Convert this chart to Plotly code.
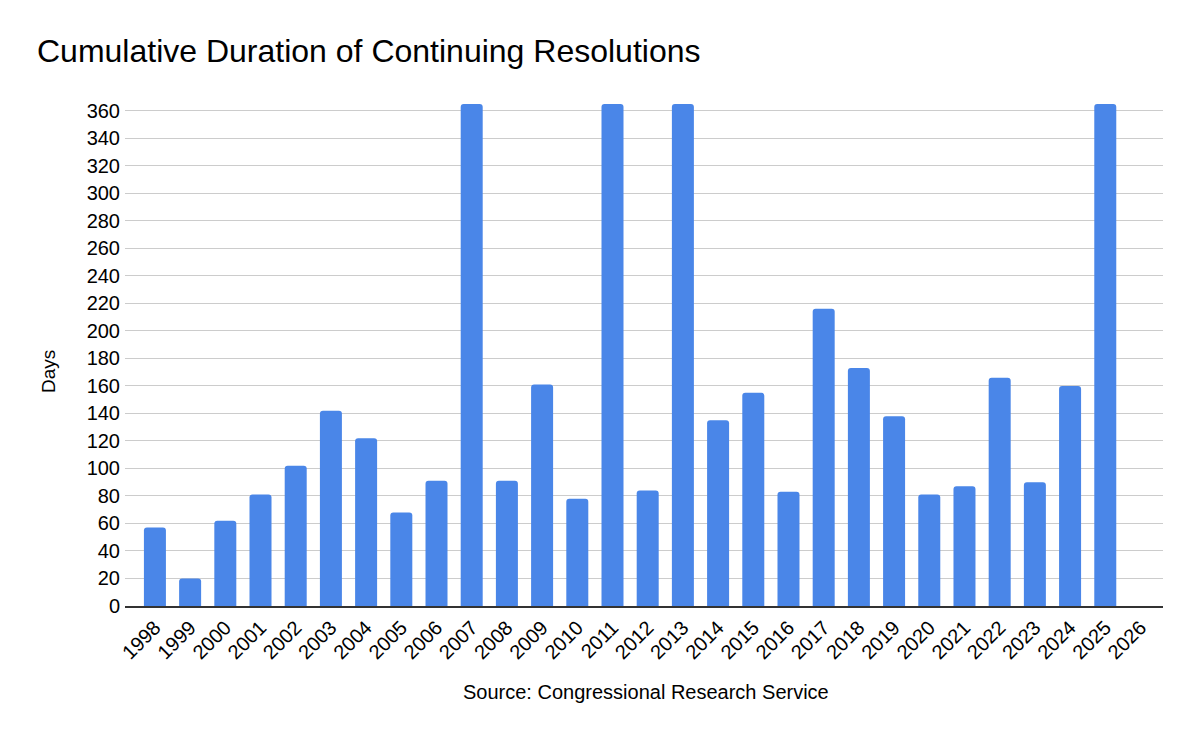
import plotly.graph_objects as go

years = [str(y) for y in range(1998, 2027)]
days = [57, 20, 62, 81, 102, 142, 122, 68, 91, 365, 91, 161, 78, 365, 84, 365,
        135, 155, 83, 216, 173, 138, 81, 87, 166, 90, 160, 365, None]
y_ticks = list(range(0, 361, 20))

FONT = "Liberation Sans, Arial, sans-serif"
OFF = 8  # default page body margin
W, H = 1200 - OFF, 742 - OFF
L, R, T, B = 125 - OFF, 37, 97 - OFF, 136
PW = W - L - R
PH = H - T - B
PX0 = L + OFF        # plot left, on screen
PY0 = H - B + OFF    # plot bottom, on screen

fig = go.Figure(go.Bar(
    x=years, y=days,
    marker=dict(color="#4a86e8", line=dict(width=0), cornerradius=3),
))

fig.update_layout(
    width=W, height=H,
    paper_bgcolor="white", plot_bgcolor="white",
    margin=dict(l=L, r=R, t=T, b=B, autoexpand=False),
    bargap=0.375,
    showlegend=False,
    font=dict(family=FONT, color="#000000"),
    title=dict(text="Cumulative Duration of Continuing Resolutions",
               x=(37 - OFF) / W, xanchor="left", xref="container",
               y=1 - (51 - OFF) / H, yanchor="middle", yref="container",
               font=dict(size=32, family=FONT, color="#000000")),
    xaxis=dict(
        type="category", categoryorder="array", categoryarray=years,
        range=[-0.85, 28.64],
        tickangle=-45, tickfont=dict(size=20), ticks="", automargin=False,
        showgrid=False, showline=True, linecolor="#333333", linewidth=2,
    ),
    yaxis=dict(
        range=[0, 370], tickvals=y_ticks, tickfont=dict(size=20), automargin=False,
        showgrid=True, gridcolor="#cccccc", gridwidth=1,
        zeroline=False, ticks="", ticklabelstandoff=4,
    ),
    annotations=[
        dict(text="Source: Congressional Research Service", xref="paper", yref="paper",
             x=(646 - PX0) / PW, y=-(692 - PY0) / PH, xanchor="center", yanchor="middle",
             showarrow=False, font=dict(size=20)),
        dict(text="Days", xref="paper", yref="paper", textangle=-90,
             x=(48 - PX0) / PW, y=(PY0 - 372) / PH, xanchor="center", yanchor="middle",
             showarrow=False, font=dict(size=19)),
    ],
)

fig.write_html("out.html")
